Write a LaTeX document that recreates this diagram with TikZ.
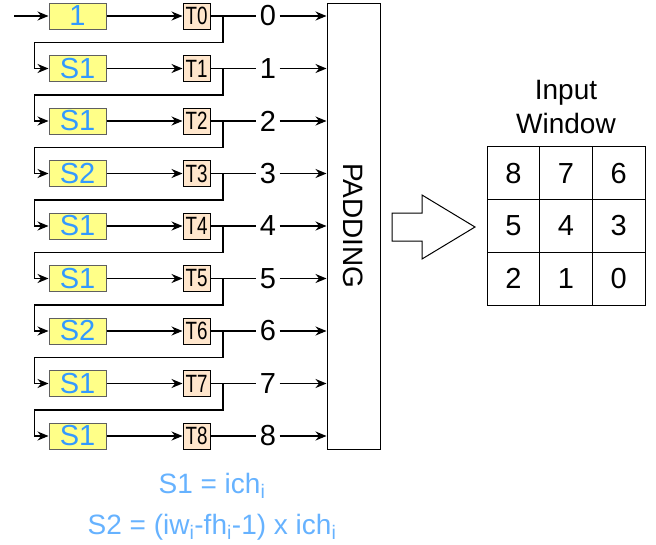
\documentclass[tikz,border=0pt]{standalone}
\usepackage{fontspec}
\setmainfont{Liberation Sans}
\usetikzlibrary{arrows.meta,calc}
\definecolor{sblue}{RGB}{51,153,255}
\definecolor{fblue}{RGB}{102,178,255}
\definecolor{yfill}{RGB}{255,255,136}
\definecolor{ygray}{RGB}{96,96,96}
\definecolor{tfill}{RGB}{255,230,204}
\begin{document}
\begin{tikzpicture}[x=1pt,y=-1pt,line width=1.2pt,
  sbox/.style={draw=ygray,fill=yfill,line width=1pt,minimum width=57pt,minimum height=26pt,inner sep=0pt,text=sblue,font=\fontsize{29}{29}\selectfont},
  tbox/.style={draw=black,fill=tfill,line width=1pt,minimum width=27pt,minimum height=26pt,inner sep=0pt,font=\fontsize{25}{25}\selectfont},
  lab/.style={inner sep=3pt,font=\fontsize{29}{29}\selectfont},
  arr/.style={-{Stealth[length=11pt,width=9pt]}},
  cell/.style={draw,line width=1pt,minimum size=52.67pt,inner sep=0pt,font=\fontsize{29}{29}\selectfont},
  bigtxt/.style={font=\fontsize{28}{28}\selectfont},
  formula/.style={text=fblue,anchor=base,font=\fontsize{28}{28}\selectfont}]
\useasboundingbox (0,0) rectangle (656,544);
% padding block
\node[draw,line width=1pt,minimum width=53pt,minimum height=446pt,inner sep=0pt] (pad) at (353.5,226) {};
\node[bigtxt,rotate=-90] (padtxt) at (pad.center) {PADDING};
% rows
\foreach \i/\s in {0/1,1/S1,2/S1,3/S2,4/S1,5/S1,6/S2,7/S1,8/S1}{
  \node[sbox] (b\i) at (77.5,{16+52.5*\i}) {\s};
  \node[tbox] (t\i) at (196.5,{16+52.5*\i}) {\scalebox{0.75}[1]{T\i}};
  \node[lab] (l\i) at (268,{16+52.5*\i}) {\i};
  \draw[arr] (b\i.east) -- (t\i.west);
  \draw (t\i.east) -- (l\i.west);
  \draw[arr] (l\i.east) -- (l\i -| pad.west);
}
\coordinate (in) at (14,16);
\draw[arr] (in) -- (b0.west);
\foreach \i [evaluate=\i as \j using int(\i+1)] in {0,...,7}{
  \draw[arr] (t\i.east) -| ($(t\i.east)+(12.5,26.5)$) -| ($(b\j.west)+(-14,0)$) -- (b\j.west);
}
% big arrow
\draw[line width=1pt] (392,213) -- (422,213) -- (422,195) -- (475,227) -- (422,259) -- (422,241) -- (392,241) -- cycle;
% input window
\node[bigtxt,anchor=base] (iw1) at (566,99) {Input};
\node[bigtxt,anchor=base] (iw2) at (566,133) {Window};
\foreach \r/\a/\b/\c in {0/8/7/6,1/5/4/3,2/2/1/0}{
  \node[cell] (c\a) at (513.33,{173.33+52.67*\r}) {\a};
  \node[cell] (c\b) at (566,{173.33+52.67*\r}) {\b};
  \node[cell] (c\c) at (618.67,{173.33+52.67*\r}) {\c};
}
% formulas
\node[formula] (f1) at (212,493) {S1 = ich\textsubscript{i}};
\node[formula] (f2) at (212,534) {S2 = (iw\textsubscript{i}-fh\textsubscript{i}-1) x ich\textsubscript{i}};
\end{tikzpicture}
\end{document}
